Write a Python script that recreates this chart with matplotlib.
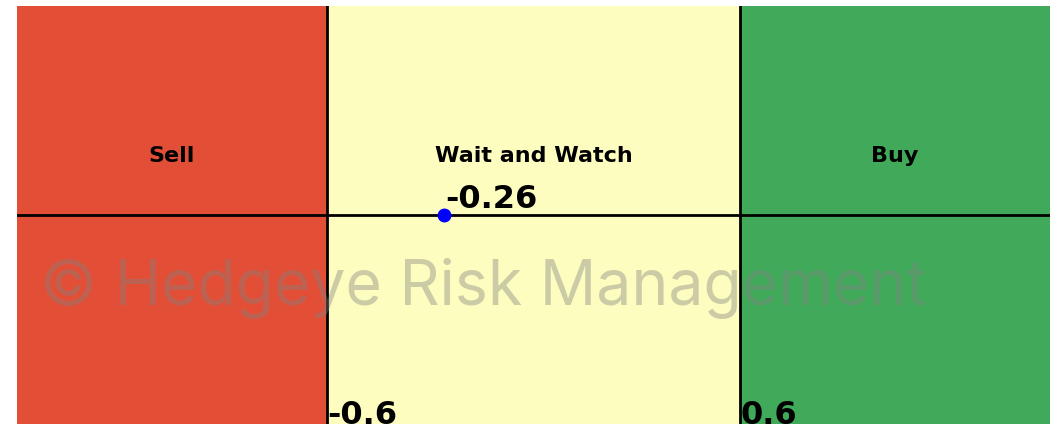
import numpy as np
import matplotlib.pyplot as plt

# zone boundaries and labels
zone_edges  = [-1.5, -0.6, 0.6, 1.5]
zone_labels = ["Sell", "Wait and Watch", "Buy"]
zone_colors = ["#e34f36", "#fefdc0", "#41aa5a"]
thresholds  = [-0.6, 0.6]
threshold_labels = ["-0.6", "0.6"]

score = -0.26

fig = plt.figure(figsize=(10.59, 4.26), dpi=100)
ax = fig.add_axes([17/1059, 1-424/426, 1033/1059, 418/426])

for i in range(len(zone_labels)):
    x0, x1 = zone_edges[i], zone_edges[i+1]
    ax.axvspan(x0, x1, color=zone_colors[i], lw=0)
    ax.text((x0+x1)/2, 0.28, zone_labels[i], ha='center', va='center',
            fontsize=16, fontweight='bold')

for t, lab in zip(thresholds, threshold_labels):
    ax.axvline(t, color='black', lw=2)
    ax.text(t, -1, lab, ha='left', va='baseline', fontsize=23, fontweight='bold')

ax.axhline(0, color='black', lw=2)
ax.plot(score, 0, 'o', color='blue', ms=9)
ax.text(score+0.005, 0, f"{score:.2f}", ha='left', va='bottom', fontsize=23, fontweight='bold')

ax.text(-0.144, -0.345, "© Hedgeye Risk Management", ha='center', va='center',
        fontsize=45, family='Inter', color='gray', alpha=0.4)

ax.set_xlim(zone_edges[0], zone_edges[-1])
ax.set_ylim(-1, 1)
ax.axis('off')

plt.savefig("out.png", dpi=100)
plt.close()
